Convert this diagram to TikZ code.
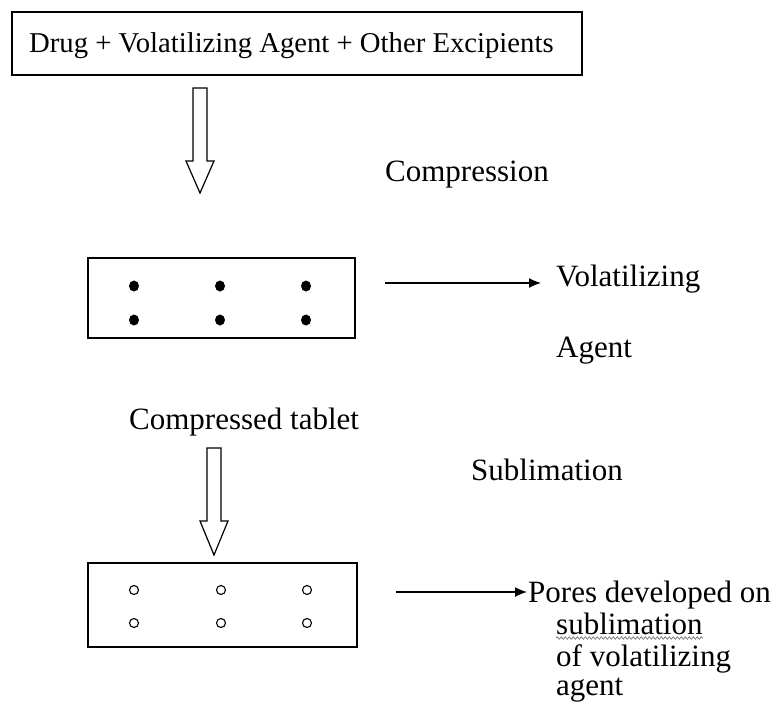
\documentclass[tikz,border=0pt]{standalone}
\usepackage{fontspec}
\setmainfont{Liberation Serif}
\usetikzlibrary{arrows.meta,decorations.pathmorphing,shapes.geometric}
\begin{document}
\begin{tikzpicture}[x=1pt,y=-1pt,
  box/.style={draw,line width=1.3pt},
  txt/.style={anchor=base west,inner sep=0pt,font=\fontsize{31}{36}\selectfont},
  toptxt/.style={anchor=base west,inner sep=0pt,font=\fontsize{28.7}{34}\selectfont},
  hollow/.style={draw,line width=1.2pt,fill=white,line join=miter},
  thin/.style={line width=1.3pt,-{Latex[length=12pt,width=10pt]}},
  solid dot/.style={ellipse,fill=black,inner sep=0pt,minimum width=10pt,minimum height=11pt},
  pore/.style={circle,draw,line width=1.1pt,inner sep=0pt,minimum size=9pt}]
\useasboundingbox (0,0) rectangle (780,702);
% top box
\draw[box] (12,12) rectangle (582,75);
\node[toptxt] (mix) at (29,52) {Drug + Volatilizing Agent + Other Excipients};
% hollow arrow 1
\draw[hollow] (193,88) -- (207,88) -- (207,161) -- (214,161) -- (200,193) -- (186,161) -- (193,161) -- cycle;
\node[txt] (compr) at (385,181) {Compression};
% middle box
\draw[box] (88,258) rectangle (355,338);
\foreach \x/\n in {134/a,220/b,306/c}{
  \node[solid dot] (d1\n) at (\x,286) {};
  \node[solid dot] (d2\n) at (\x,320) {};
}
\coordinate (a1s) at (385,283);
\coordinate (a1e) at (541,283);
\draw[thin] (a1s) -- (a1e);
\node[txt] (vol) at (556,286) {Volatilizing};
\node[txt] (agent) at (556,357) {Agent};
\node[txt] (ct) at (129,429) {Compressed tablet};
% hollow arrow 2
\draw[hollow] (207,448) -- (221,448) -- (221,521) -- (228,521) -- (214,555) -- (200,521) -- (207,521) -- cycle;
\node[txt] (subl) at (471,480) {Sublimation};
% bottom box
\draw[box] (88,563) rectangle (357,647);
\foreach \x/\n in {134/a,221/b,307/c}{
  \node[pore] (p1\n) at (\x,590) {};
  \node[pore] (p2\n) at (\x,623) {};
}
\coordinate (a2s) at (396,592);
\coordinate (a2e) at (527,592);
\draw[thin] (a2s) -- (a2e);
\node[txt] (pores) at (528,602) {Pores developed on};
\node[txt] (sub2) at (556,634) {sublimation};
\draw[gray,line width=0.8pt,decorate,decoration={snake,amplitude=1.2pt,segment length=4pt}] ([yshift=-4pt]sub2.base west) -- ([yshift=-4pt]sub2.base east);
\node[txt] (ofvol) at (556,666) {of volatilizing};
\node[txt] (agent2) at (556,695) {agent};
\end{tikzpicture}
\end{document}
